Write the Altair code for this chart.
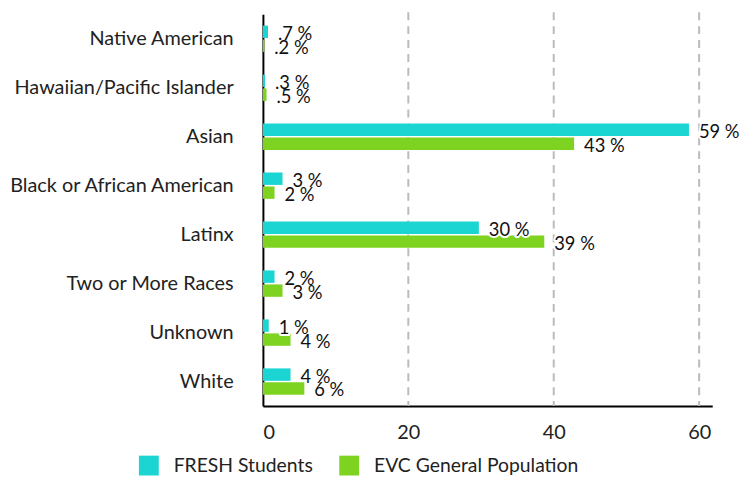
import altair as alt
import pandas as pd

categories = ["Native American", "Hawaiian/Pacific Islander", "Asian",
              "Black or African American", "Latinx", "Two or More Races",
              "Unknown", "White"]
series = ["FRESH Students", "EVC General Population"]
fresh = [0.7, 0.3, 58.6, 2.7, 29.7, 1.6, 0.8, 3.8]
evc = [0.2, 0.5, 42.8, 1.6, 38.7, 2.7, 3.8, 5.7]
fresh_labels = [".7 %", ".3 %", "59 %", "3 %", "30 %", "2 %", "1 %", "4 %"]
evc_labels = [".2 %", ".5 %", "43 %", "2 %", "39 %", "3 %", "4 %", "6 %"]
colors = ["#1ad5d1", "#7ed321"]

rows = []
for c, f, e, fl, el in zip(categories, fresh, evc, fresh_labels, evc_labels):
    rows.append({"cat": c, "series": series[0], "value": f, "label": fl})
    rows.append({"cat": c, "series": series[1], "value": e, "label": el})
df = pd.DataFrame(rows)

FONT = "Lato"
XDOM = [0, 61.8]

y = alt.Y("cat:N", sort=categories, title=None,
          scale=alt.Scale(paddingInner=0.43, paddingOuter=0.215),
          axis=alt.Axis(ticks=False, labelPadding=30, labelFontSize=20,
                        labelColor="#222", domainColor="#000", domainWidth=2,
                        grid=False, labelLimit=400))
yoff = alt.YOffset("series:N", sort=series)
x = alt.X("value:Q", title=None,
          scale=alt.Scale(domain=XDOM, nice=False),
          axis=alt.Axis(values=[0, 20, 40, 60], ticks=False, labelPadding=17,
                        labelFontSize=20, labelColor="#222", domainColor="#000",
                        domainWidth=2, grid=False))

base = alt.Chart(df).encode(y=y, yOffset=yoff)

grid_df = pd.DataFrame({"g": [20, 40, 60]})
grid = alt.Chart(grid_df).mark_rule(color="#bbbbbb", strokeWidth=2,
                                    strokeDash=[8, 6]).encode(
    x=alt.X("g:Q", scale=alt.Scale(domain=XDOM, nice=False)),
    y=alt.value(-2), y2=alt.value(395))

bars = base.mark_bar(size=12.5).encode(
    x=x,
    color=alt.Color("series:N", sort=series,
                    scale=alt.Scale(domain=series, range=colors),
                    legend=alt.Legend(title=None, orient="none",
                                      direction="horizontal",
                                      legendX=-125, legendY=445,
                                      symbolType="square", symbolSize=400,
                                      symbolStrokeWidth=0, symbolOpacity=1,
                                      labelFontSize=19.5, labelColor="#222",
                                      labelFont=FONT, columnPadding=26,
                                      labelOffset=15, labelLimit=0)))

halo = base.mark_text(align="left", baseline="middle", dx=10, dy=2,
                      fontSize=18.5, font=FONT, stroke="white", strokeWidth=4,
                      strokeJoin="round", color="white").encode(
    x="value:Q", text="label:N")
labels = base.mark_text(align="left", baseline="middle", dx=10, dy=2,
                        fontSize=18.5, font=FONT, color="#111").encode(
    x="value:Q", text="label:N")

chart = alt.layer(grid, bars, halo, labels).properties(
    width=453, height=395,
    autosize=alt.AutoSizeParams(type="none"),
    padding={"top": 4.4, "left": 257, "right": 28, "bottom": 72}
).configure_view(stroke=None).configure_axis(labelFont=FONT)

chart.save("out.html", embed_options={"renderer": "svg", "actions": False})
